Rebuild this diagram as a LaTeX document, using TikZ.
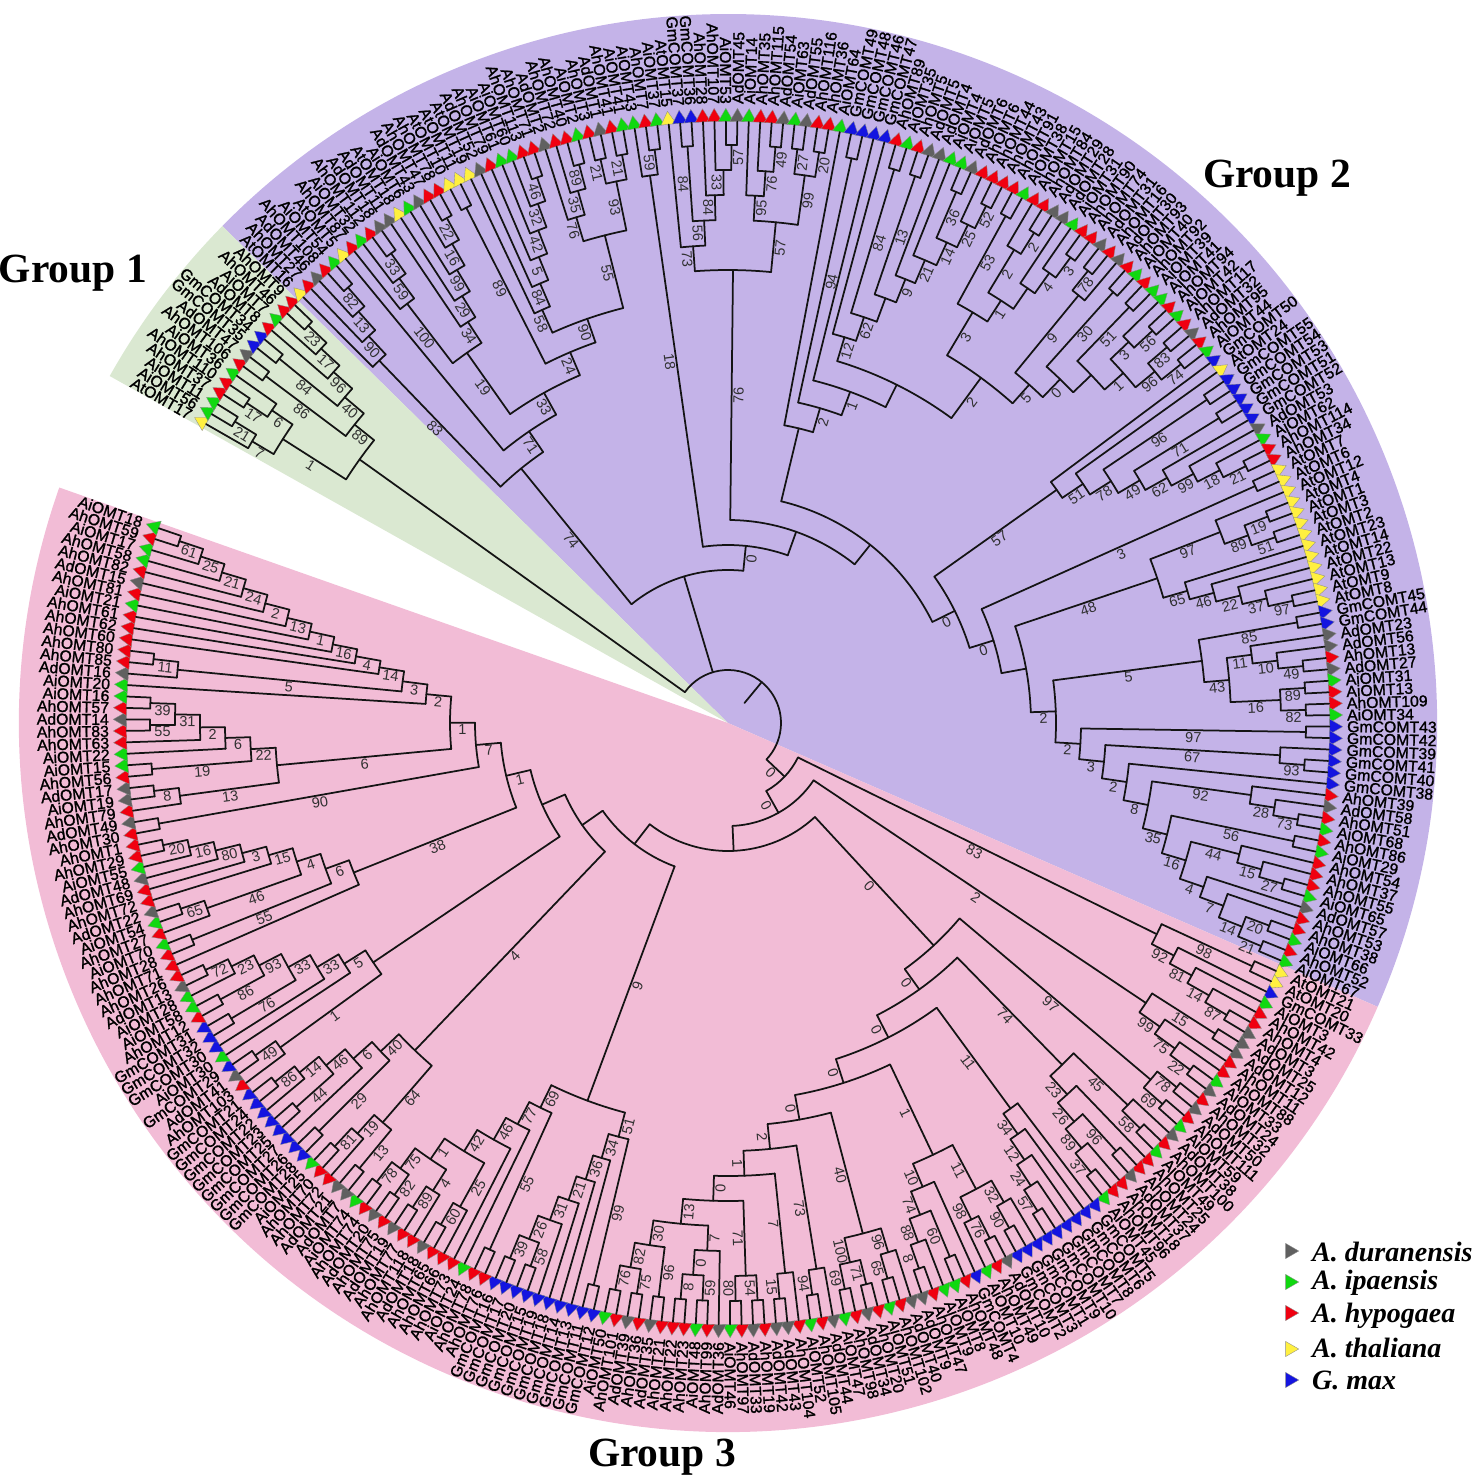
\documentclass[tikz,border=0pt]{standalone}
\usepackage{fontspec}
\usetikzlibrary{shapes.geometric}
\setmainfont{Liberation Serif}
\newfontfamily\leaffont[FakeBold=1.4]{Liberation Sans}
\newfontfamily\supfont{Liberation Sans}
\definecolor{bgP}{HTML}{C4B3E8}
\definecolor{bgR}{HTML}{F2BCD6}
\definecolor{bgG}{HTML}{DAE8D1}
\definecolor{cr}{HTML}{F00010}
\definecolor{cg}{HTML}{10D810}
\definecolor{cb}{HTML}{1414E0}
\definecolor{cy}{HTML}{FFF040}
\definecolor{cd}{HTML}{606060}
\definecolor{suptxt}{HTML}{303030}
\tikzset{
  br/.style={line width=1.75pt,draw=black!92,line cap=round,line join=round},
  tri/.style={regular polygon,regular polygon sides=3,minimum size=17.5pt,inner sep=0pt,draw=black!45,line width=0.35pt},
  leaflab/.style={inner sep=0pt,font=\leaffont\fontsize{15.8}{15.8}\selectfont,text=black},
  suplab/.style={inner sep=1.6pt,anchor=north,font=\supfont\fontsize{14.5}{14.5}\selectfont,text=suptxt},
  title/.style={inner sep=0pt,font=\bfseries\fontsize{41.5}{41.5}\selectfont},
  legtxt/.style={inner sep=0pt,anchor=west,font=\bfseries\itshape\fontsize{28}{28}\selectfont}
}
\newcount\SP \newcount\LeafIdx \newcount\NID
\def\RzeroV{603}\def\StepR{25}\def\StartA{150.2}\def\StepA{1.0909}
\def\Push#1#2#3#4{%
  \global\advance\SP by 1
  \expandafter\xdef\csname sA\the\SP\endcsname{#1}%
  \expandafter\xdef\csname sH\the\SP\endcsname{#2}%
  \expandafter\xdef\csname sL\the\SP\endcsname{#3}%
  \expandafter\xdef\csname sN\the\SP\endcsname{#4}}
\def\Lf{%
  \edef\idx{\the\LeafIdx}%
  \pgfmathsetmacro\ta{\StartA-\StepA*\idx}%
  \pgfmathsetmacro\tb{\ta-90}%
  \pgfmathtruncatemacro\rt{cos(\ta)>=0?1:0}%
  \edef\tcol{\csname co\idx\endcsname}%
  \node[tri,fill=\tcol,shape border rotate=\tb] (t\idx) at (\ta:606pt) {};
  \ifnum\rt=1
    \node[leaflab,rotate=\ta,anchor=west] (x\idx) at (\ta:619pt) {\csname nm\idx\endcsname};
  \else
    \pgfmathsetmacro\tb{\ta+180}%
    \node[leaflab,rotate=\tb,anchor=east] (x\idx) at (\ta:619pt) {\csname nm\idx\endcsname};
  \fi
  \Push{\ta}{0}{}{t\idx}%
  \global\advance\LeafIdx by 1 }
% draw the stem of stack entry #1 up to radius #2
\def\DoChild#1#2{%
  \edef\can{\csname sN#1\endcsname}%
  \edef\caa{\csname sA#1\endcsname}%
  \edef\chh{\csname sH#1\endcsname}%
  \edef\cll{\csname sL#1\endcsname}%
  \coordinate (f\can) at (\caa:#2pt);
  \draw[br] (\can) -- (f\can);
  \ifx\cll\empty\else
    \pgfmathsetmacro\rc{\RzeroV-\StepR*\chh}%
    \pgfmathsetmacro\rm{(\rc+#2)/2}%
    \pgfmathsetmacro\rho{cos(\caa)>=0?\caa:\caa+180}%
    \node[suplab,rotate=\rho] (s\can) at (\caa:\rm pt) {\cll};
  \fi}
\def\Jn#1{%
  \edef\ia{\the\numexpr\SP-1\relax}\edef\ib{\the\SP}%
  \edef\aa{\csname sA\ia\endcsname}\edef\ab{\csname sA\ib\endcsname}%
  \edef\ha{\csname sH\ia\endcsname}\edef\hb{\csname sH\ib\endcsname}%
  \ifnum\ha>\hb\edef\hh{\the\numexpr\ha+1\relax}\else\edef\hh{\the\numexpr\hb+1\relax}\fi
  \pgfmathsetmacro\rr{\RzeroV-\StepR*\hh}%
  \pgfmathsetmacro\am{(\aa+\ab)/2}%
  \draw[br] (\aa:\rr pt) arc[start angle=\aa,end angle=\ab,radius=\rr pt];
  \DoChild{\ia}{\rr}%
  \DoChild{\ib}{\rr}%
  \global\advance\NID by 1
  \coordinate (n\the\NID) at (\am:\rr pt);
  \global\advance\SP by -2
  \Push{\am}{\hh}{#1}{n\the\NID}}
\def\C#1{\Lf\Lf\Jn{#1}}
\begin{document}
\begin{tikzpicture}[x=1pt,y=1pt]
\useasboundingbox (-728pt,-760pt) rectangle (748pt,723pt);
\fill[bgP] (0,0) -- (-23.6:709pt) arc[start angle=-23.6,end angle=135.5,radius=709pt] -- cycle;
\fill[bgG] (0,0) -- (135.5:709pt) arc[start angle=135.5,end angle=150.7,radius=709pt] -- cycle;
\fill[bgR] (0,0) -- (160.6:709pt) arc[start angle=160.6,end angle=336.4,radius=709pt] -- cycle;
\foreach \cc/\nn [count=\k from 0] in {
y/AtOMT17,g/AiOMT56,g/AiOMT11,r/AhOMT37,r/AhOMT110,g/AiOMT36,r/AhOMT106,d/AdOMT47,b/GmCOMT35,b/GmCOMT34,r/AdOMT8,g/AiOMT7,r/AhOMT46,r/AhOMT9,
y/AtOMT16,r/AhOMT27,d/AdOMT46,r/AhOMT108,g/AiOMT54,y/AtOMT5,r/AhOMT87,g/AiOMT32,r/AhOMT112,d/AdOMT18,d/AdOMT11,y/AtOMT18,g/AiOMT6,d/AdOMT43,r/AhOMT47,r/AhOMT78,y/AtOMT10,y/AtOMT11,y/AtOMT19,d/AdOMT52,r/AhOMT79,g/AiOMT61,g/AiOMT60,r/AhOMT113,r/AhOMT71,d/AdOMT2,r/AhOMT72,r/AhOMT40,g/AiOMT2,r/AhOMT3,d/AdOMT1,
r/AhOMT41,g/AiOMT41,g/AiOMT43,r/AhOMT7,g/AiOMT37,y/AtOMT15,b/GmCOMT37,b/GmCOMT36,r/AhOMT28,r/AhOMT107,g/AiOMT53,d/AdOMT45,g/AiOMT14,r/AhOMT35,r/AhOMT115,d/AdOMT54,g/AiOMT63,d/AdOMT55,r/AhOMT116,r/AhOMT36,g/AiOMT64,b/GmCOMT49,b/GmCOMT48,b/GmCOMT46,b/GmCOMT47,r/AhOMT89,g/AiOMT35,r/AhOMT5,d/AdOMT5,d/AdOMT4,g/AiOMT4,g/AiOMT5,d/AdOMT6,r/AhOMT6,r/AhOMT44,r/AhOMT43,r/AhOMT91,g/AiOMT38,r/AhOMT15,r/AhOMT84,d/AdOMT29,d/AdOMT28,g/AiOMT31,r/AhOMT90,r/AhOMT74,d/AdOMT31,
r/AhOMT16,d/AdOMT30,r/AhOMT93,g/AiOMT40,r/AhOMT92,g/AiOMT39,g/AiOMT41,r/AhOMT94,g/AiOMT42,r/AhOMT117,d/AdOMT32,r/AhOMT95,g/AiOMT44,b/GmCOMT50,y/AtOMT24,b/GmCOMT55,b/GmCOMT54,b/GmCOMT53,b/GmCOMT51,b/GmCOMT52,d/AdOMT53,g/AiOMT62,r/AhOMT114,r/AhOMT34,
y/AtOMT7,y/AtOMT6,y/AtOMT12,y/AtOMT4,y/AtOMT1,y/AtOMT3,y/AtOMT2,y/AtOMT23,y/AtOMT14,y/AtOMT22,y/AtOMT13,y/AtOMT9,y/AtOMT8,b/GmCOMT45,b/GmCOMT44,d/AdOMT23,d/AdOMT56,r/AhOMT13,d/AdOMT27,g/AiOMT31,r/AiOMT13,r/AhOMT109,g/AiOMT34,b/GmCOMT43,b/GmCOMT42,b/GmCOMT39,b/GmCOMT41,b/GmCOMT40,b/GmCOMT38,r/AhOMT39,d/AdOMT58,r/AhOMT51,g/AiOMT68,r/AhOMT86,g/AiOMT29,r/AhOMT54,r/AhOMT37,r/AhOMT55,g/AiOMT65,d/AdOMT57,r/AhOMT53,r/AhOMT38,g/AiOMT66,r/AhOMT52,g/AiOMT67,
y/AtOMT21,y/AtOMT20,b/GmCOMT33,g/AiOMT3,r/AhOMT42,r/AhOMT4,d/AdOMT3,d/AdOMT25,d/AdOMT12,r/AhOMT11,r/AhOMT88,g/AiOMT33,d/AdOMT24,r/AhOMT32,d/AdOMT50,r/AhOMT111,g/AiOMT59,d/AdOMT38,r/AhOMT100,g/AiOMT49,r/AhOMT25,r/AhOMT24,d/AdOMT37,r/AhOMT18,r/AhOMT96,g/AiOMT45,b/GmCOMT5,b/GmCOMT6,b/GmCOMT8,b/GmCOMT7,b/GmCOMT10,b/GmCOMT9,b/GmCOMT1,b/GmCOMT3,b/GmCOMT2,
d/AdOMT10,r/AhOMT49,g/AiOMT10,b/GmCOMT4,r/AhOMT48,g/AiOMT8,g/AiOMT9,r/AhOMT47,d/AdOMT9,d/AdOMT40,r/AhOMT102,g/AiOMT51,r/AhOMT20,d/AdOMT34,r/AhOMT98,g/AiOMT47,d/AdOMT44,r/AhOMT105,g/AiOMT52,r/AhOMT104,d/AdOMT43,d/AdOMT42,r/AhOMT19,d/AdOMT33,r/AhOMT97,g/AiOMT46,d/AdOMT36,r/AhOMT99,g/AiOMT48,r/AhOMT23,r/AhOMT22,r/AhOMT21,d/AdOMT35,r/AhOMT36,d/AdOMT39,
r/AhOMT101,g/AiOMT50,b/GmCOMT12,b/GmCOMT11,b/GmCOMT13,b/GmCOMT14,b/GmCOMT18,b/GmCOMT19,b/GmCOMT15,b/GmCOMT20,b/GmCOMT17,b/GmCOMT16,r/AhOMT76,r/AhOMT78,g/AiOMT24,r/AhOMT73,r/AhOMT66,r/AhOMT65,d/AdOMT18,r/AhOMT118,r/AhOMT77,d/AdOMT19,r/AhOMT75,d/AdOMT20,r/AhOMT74,g/AiOMT74,d/AdOMT7,d/AdOMT21,r/AhOMT72,r/AhOMT70,g/AiOMT25,
b/GmCOMT28,b/GmCOMT26,b/GmCOMT27,b/GmCOMT25,b/GmCOMT23,b/GmCOMT22,b/GmCOMT24,b/GmCOMT21,r/AhOMT103,d/AdOMT41,b/GmCOMT29,g/AiOMT30,b/GmCOMT30,b/GmCOMT32,b/GmCOMT31,r/AhOMT12,g/AiOMT58,g/AiOMT28,d/AdOMT13,r/AhOMT26,r/AhOMT71,r/AhOMT28,g/AiOMT70,r/AhOMT27,g/AiOMT54,d/AdOMT22,r/AhOMT72,r/AhOMT69,d/AdOMT48,g/AiOMT55,
r/AhOMT29,r/AhOMT1,r/AhOMT30,d/AdOMT49,r/AhOMT79,d/AiOMT19,d/AdOMT17,r/AhOMT56,g/AiOMT15,g/AiOMT22,r/AhOMT63,r/AhOMT83,d/AdOMT14,r/AhOMT57,g/AiOMT16,g/AiOMT20,d/AdOMT16,r/AhOMT85,r/AhOMT80,r/AhOMT60,r/AhOMT62,r/AhOMT61,g/AiOMT21,r/AhOMT81,d/AdOMT15,r/AhOMT82,g/AhOMT58,g/AiOMT17,r/AhOMT59,g/AiOMT18}
{\expandafter\xdef\csname nm\k\endcsname{\nn}\expandafter\xdef\csname co\k\endcsname{c\cc}}
% ---------- Group 1
\Lf\C{21}\Jn{7}\C{17}\Lf\Jn{6}\Jn{1}
\C{86}\C{84}\Lf\Lf\C{23}\Jn{17}\Jn{96}\Jn{40}\Jn{89}
\Jn{}
% ---------- Group 2
\Lf\Lf\Lf\C{82}\Jn{13}\Jn{90}\Jn{83}
\Lf
\Lf\Lf\C{33}\Jn{59}\Jn{100}
\Lf\Lf\Lf\Lf\C{22}\Jn{16}\Jn{99}\Jn{29}\Jn{34}
\Jn{19}
\C{89}
\Lf\Lf\Lf\Lf\Lf\C{46}\Jn{32}\Jn{42}\Jn{5}\Jn{84}\Jn{58}
\Lf\Lf\C{89}\Jn{35}\Jn{76}
\C{21}\C{21}\Jn{93}
\Jn{55}\Jn{90}\Jn{24}\Jn{33}\Jn{71}\Jn{74}
\Lf\C{59}\Jn{18}
\Lf\C{84}\Lf\Lf\C{57}\Jn{33}\Jn{84}\Jn{56}\Jn{73}
\Lf\Lf\C{49}\Jn{76}\Jn{95}
\C{27}\C{20}\Jn{99}
\Jn{57}\Jn{76}
\Lf\C{94}\Lf\Lf
\C{84}\C{13}\Lf\Lf\C{36}\Lf\C{52}\Jn{25}\Jn{14}\Jn{21}\Jn{9}\Jn{}\Jn{62}\Jn{12}
\C{53}\Lf\C{2}\Jn{2}\Lf\Lf\C{3}\Jn{4}\Jn{}\Jn{1}\Jn{3}
\C{78}\Lf\Jn{9}
\C{30}\C{51}\Lf\C{56}\Jn{3}\C{83}\C{74}\Jn{96}\Jn{1}\Jn{}\Jn{0}
\Jn{5}\Jn{2}
\Jn{}\Jn{1}\Jn{2}\Jn{}
\Lf\Lf\C{96}\C{71}\Lf\Lf\Lf\C{21}\Jn{18}\Jn{99}\Jn{62}\Jn{49}\Jn{78}\Jn{51}\Jn{57}
\C{3}
\Lf\C{19}\C{51}\Jn{89}\Jn{97}
\Lf\Lf\Lf\Lf\C{97}\Jn{37}\Jn{22}\Jn{46}\Jn{65}
\Jn{48}
\C{85}\Lf\Lf\C{49}\Jn{10}\Jn{11}\C{89}\C{82}\Jn{16}\Jn{43}\Jn{5}
\C{97}\Lf\C{93}\Jn{67}\Lf
\Lf\Lf\C{73}\Jn{28}\Jn{92}
\C{56}\Lf\Lf\C{27}\Jn{15}\Jn{44}\Lf\Lf\C{20}\C{21}\Jn{14}\Jn{7}\Jn{4}\Jn{16}\Jn{35}
\Jn{8}\Jn{2}\Jn{3}\Jn{2}\Jn{2}
\Jn{}\Jn{0}\Jn{0}
\Jn{}\Jn{}\Jn{0}\Jn{}
% ---------- Group 3
\C{98}\Lf\Lf\Lf\C{87}\Jn{14}\Jn{81}\Jn{92}\Jn{83}
\C{15}\Lf\Lf\C{22}\Jn{75}\Jn{99}\Jn{2}
\C{78}\C{69}\Jn{97}
\Lf\C{58}\Jn{45}
\Lf\C{96}\Lf\C{37}\Jn{89}\Jn{26}\Jn{23}\Jn{74}
\Lf\Lf\Lf\Lf\C{57}\Jn{24}\Jn{12}\Jn{34}\Jn{11}
\Lf\C{90}\Jn{32}\C{76}\Lf\Jn{98}\Jn{11}
\Lf\C{60}\Lf\C{8}\Jn{88}\Jn{74}\Jn{10}\Jn{1}
\Lf\C{65}\Jn{96}\C{71}\C{69}\Jn{100}\Jn{40}
\Lf\C{94}\Jn{73}
\Lf\C{15}\Jn{7}
\C{54}\C{80}\Jn{71}
\Lf\C{59}\C{8}\Jn{0}\Jn{7}
\C{96}\C{75}\C{76}\Jn{82}\Jn{30}\Jn{13}
\Jn{0}\Jn{1}\Jn{2}\Jn{0}\Jn{0}\Jn{0}\Jn{0}\Jn{0}
\C{99}\Lf\Lf\Lf\Lf\C{58}\C{39}\Jn{26}\Jn{31}\Jn{21}\Jn{36}\Jn{34}\Jn{51}
\C{55}\Lf\Lf\Lf\C{60}\Jn{25}\Lf\C{89}\Jn{4}\C{82}\C{78}\Jn{75}\Jn{1}\Jn{42}\Jn{46}\Jn{77}\Jn{69}
\Jn{9}
\C{13}\Lf\C{81}\Jn{19}\Jn{64}
\C{29}\Lf\C{44}\Lf\C{86}\Jn{14}\Jn{46}\Jn{6}\Jn{40}\Jn{4}
\Lf\C{49}\Jn{1}
\Lf\Lf\C{76}\C{86}\Lf\C{72}\Jn{23}\Jn{93}\Jn{33}\Jn{33}\Jn{5}
\Jn{}
\Lf\C{55}\Lf\C{65}\Jn{46}\Lf\Lf\Lf\Lf\C{20}\Jn{16}\Jn{80}\Jn{3}\Jn{15}\Jn{4}\Jn{6}\Jn{38}
\C{90}
\Lf\C{8}\Jn{13}\C{19}\Lf\Lf\C{55}\C{39}\Jn{31}\Jn{2}\Jn{6}\Jn{22}\Jn{6}
\Lf\Lf\C{11}\Jn{5}\Lf\Lf\Lf\Lf\Lf\Lf\Lf\Lf\Lf\C{61}\Jn{25}\Jn{21}\Jn{24}\Jn{2}\Jn{13}\Jn{1}\Jn{16}\Jn{4}\Jn{14}\Jn{3}\Jn{2}
\Jn{1}\Jn{7}\Jn{1}
\Jn{}\Jn{}\Jn{}\Jn{}\Jn{0}\Jn{0}
% ---------- root (three children)
\pgfmathsetmacro\rr{\RzeroV-\StepR*22}%
\edef\aa{\csname sA1\endcsname}\edef\ab{\csname sA3\endcsname}%
\pgfmathsetmacro\am{(\aa+\ab)/2}%
\draw[br] (\aa:\rr pt) arc[start angle=\aa,end angle=\ab,radius=\rr pt];
\DoChild{1}{\rr}\DoChild{2}{\rr}\DoChild{3}{\rr}
\coordinate (rootin) at (\am:26pt);
\coordinate (rootout) at (\am:\rr pt);
\draw[br] (rootout) -- (rootin);
% ---------- titles
\node[title] (g1) at (-655pt,450pt) {Group 1};
\node[title] (g2) at (549pt,545pt) {Group 2};
\node[title] (g3) at (-66pt,-734pt) {Group 3};
% ---------- legend
\foreach \cc/\yy/\zz/\tt [count=\k] in {d/-528/-529/A. duranensis,g/-559/-560/A. ipaensis,r/-590/-593/A. hypogaea,y/-626/-625/A. thaliana,b/-657/-657/G. max}{
  \node[tri,fill=c\cc,shape border rotate=-90] (lt\k) at (562pt,\yy pt) {};
  \node[legtxt] (lx\k) at (584pt,\zz pt) {\tt};
}
\end{tikzpicture}
\end{document}
